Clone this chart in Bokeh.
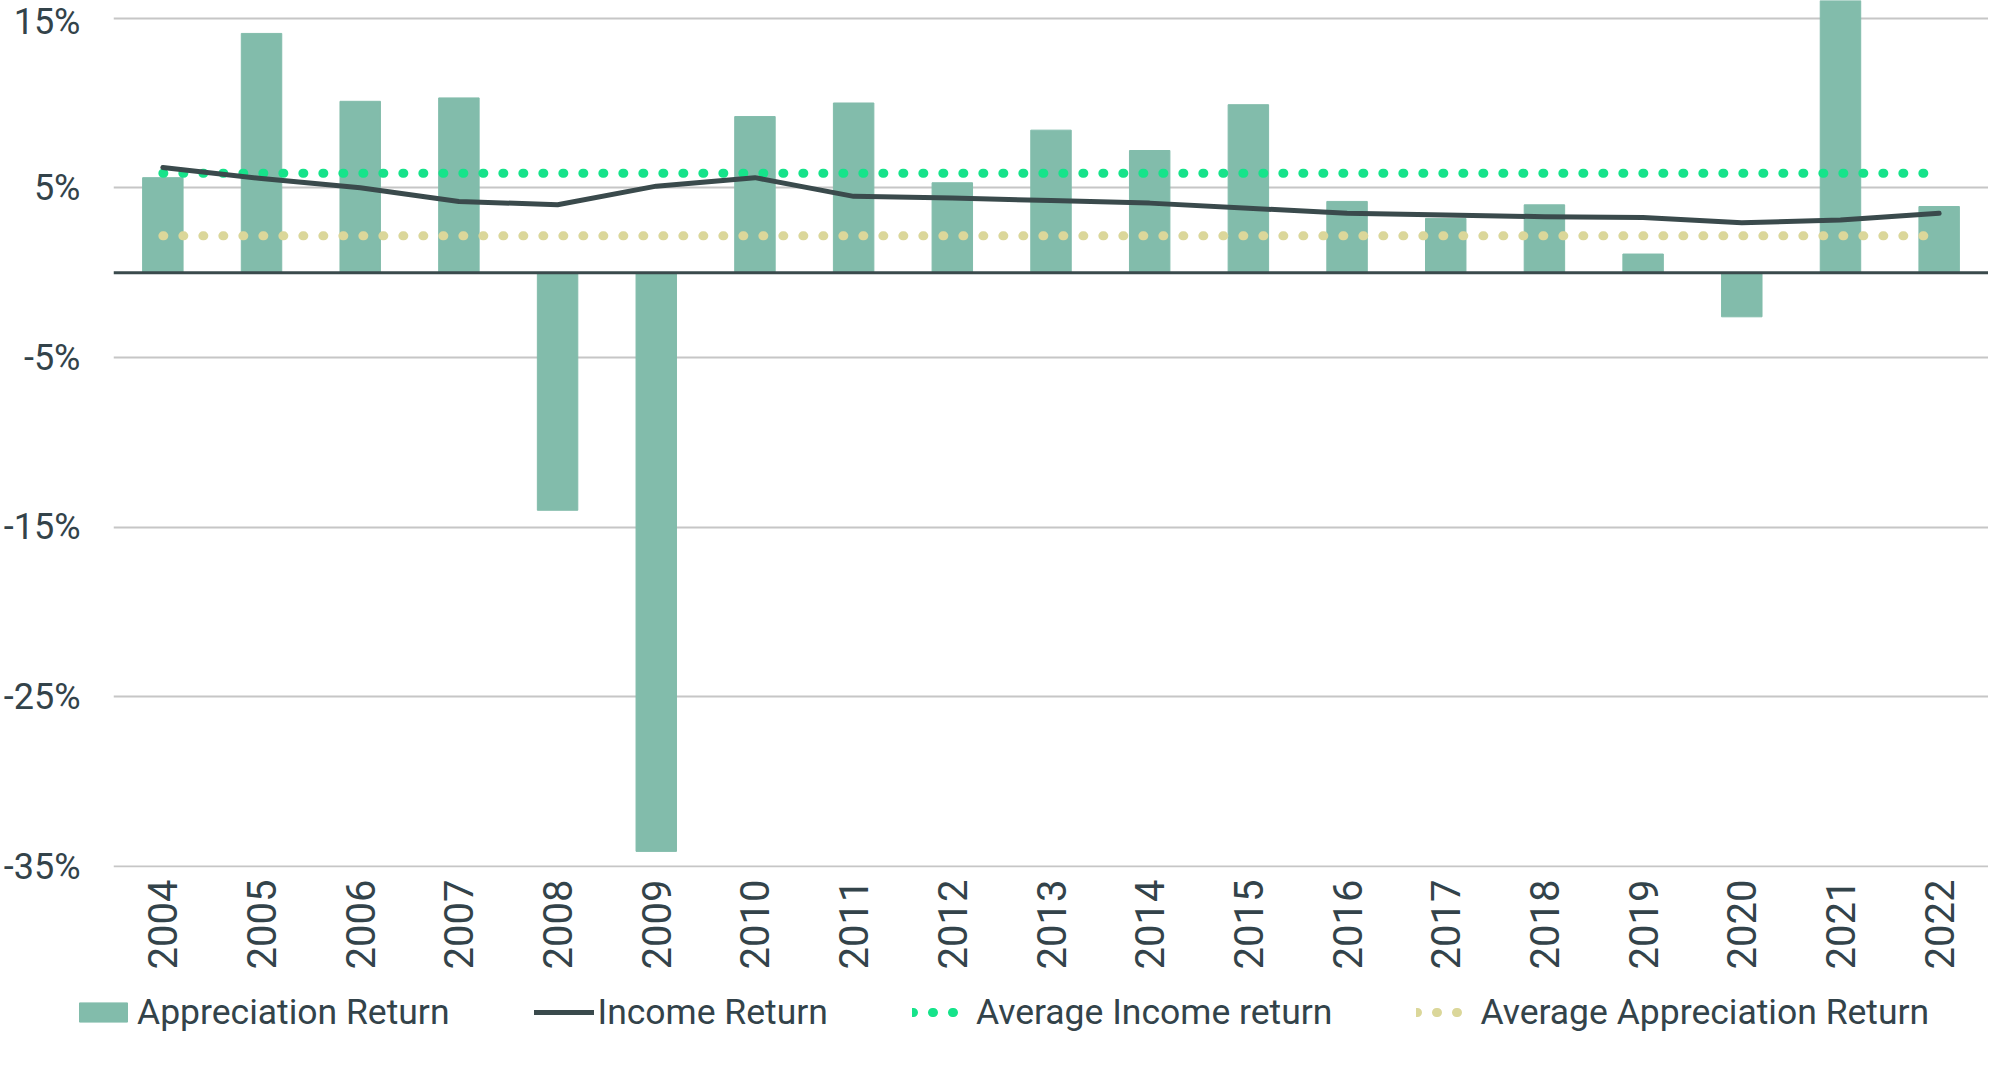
import math
from bokeh.plotting import figure
from bokeh.models import (FactorRange, Range1d, FixedTicker, Legend, LegendItem,
                          Span, PrintfTickFormatter)
from bokeh.embed import file_html
from bokeh.resources import INLINE

years = ["2004", "2005", "2006", "2007", "2008", "2009", "2010", "2011", "2012",
         "2013", "2014", "2015", "2016", "2017", "2018", "2019", "2020", "2021", "2022"]
appreciation_return = [5.6, 14.1, 10.1, 10.3, -14.0, -34.1, 9.2, 10.0, 5.3,
                       8.4, 7.2, 9.9, 4.2, 3.2, 4.0, 1.1, -2.6, 17.0, 3.9]
income_return = [6.2, 5.55, 5.0, 4.2, 4.0, 5.1, 5.6, 4.5, 4.4,
                 4.25, 4.1, 3.8, 3.5, 3.4, 3.3, 3.25, 2.95, 3.1, 3.5]
average_income_return = 5.86
average_appreciation_return = 2.17
y_ticks = [-35, -25, -15, -5, 5, 15]
series_names = ["Appreciation Return", "Income Return",
                "Average Income return", "Average Appreciation Return"]

TEXT = "#33434a"
FONT = "Roboto"
BAR_C = "#82bcab"
LINE_C = "#3a4a4c"
AVG_INC_C = "#16e38a"
AVG_APP_C = "#dbd79a"


def draw_series(fig):
    rb = fig.vbar(x=years, top=appreciation_return, width=0.41, bottom=0,
                  fill_color=BAR_C, line_color=BAR_C, line_width=1)
    rai = fig.line(x=[years[0], years[-1]], y=[average_income_return, average_income_return],
                   line_color=AVG_INC_C, line_width=9, line_dash="1 19", line_cap="round")
    raa = fig.line(x=[years[0], years[-1]], y=[average_appreciation_return, average_appreciation_return],
                   line_color=AVG_APP_C, line_width=9, line_dash="1 19", line_cap="round")
    ri = fig.line(x=years, y=income_return, line_color=LINE_C, line_width=5,
                  line_cap="round", line_join="round")
    return rb, ri, rai, raa


p = figure(width=1988, height=975, output_backend="svg", toolbar_location=None,
           x_range=FactorRange(factors=years), y_range=Range1d(-35.05, 16.04),
           min_border_left=104, min_border_right=0, min_border_top=0, min_border_bottom=108)
p.outline_line_color = None
p.background_fill_color = "white"
p.border_fill_color = "white"
p.add_layout(Span(location=0, dimension="width", line_color=LINE_C, line_width=3))
draw_series(p)

p.xgrid.grid_line_color = None
p.ygrid.grid_line_color = "#c6c6c6"
p.ygrid.grid_line_width = 2
p.yaxis.ticker = FixedTicker(ticks=y_ticks)
p.yaxis.formatter = PrintfTickFormatter(format="%d%%")

for ax in (p.xaxis, p.yaxis):
    ax.axis_line_color = None
    ax.major_tick_line_color = None
    ax.minor_tick_line_color = None
    ax.major_tick_out = 0
    ax.major_tick_in = 0
    ax.major_label_text_font = FONT
    ax.major_label_text_color = TEXT
p.yaxis.major_label_text_font_size = "36px"
p.xaxis.major_label_text_font_size = "40px"
p.yaxis.major_label_standoff = 33
p.xaxis.major_label_standoff = 12
p.xaxis.major_label_orientation = math.pi / 2

# legend strip: same series, viewed out of range so only the legend shows
lg = figure(width=1988, height=77, output_backend="svg", toolbar_location=None,
            x_range=FactorRange(factors=years), y_range=Range1d(100, 101),
            min_border=0, x_axis_type=None, y_axis_type=None)
lg.outline_line_color = None
lg.xgrid.visible = False
lg.ygrid.visible = False
rb, ri, rai, raa = draw_series(lg)

legend = Legend(items=[
    LegendItem(label=series_names[0], renderers=[rb]),
    LegendItem(label=series_names[1], renderers=[ri]),
    LegendItem(label=series_names[2], renderers=[rai]),
    LegendItem(label=series_names[3], renderers=[raa]),
], orientation="horizontal", location=(73, 19),
    glyph_width=60, glyph_height=24, label_standoff=4, spacing=84,
    padding=0, margin=0, border_line_color=None, background_fill_alpha=0,
    label_text_font=FONT, label_text_font_size="35.5px", label_text_color=TEXT)
lg.add_layout(legend, "center")

open("out.html", "w").write(file_html([p, lg], INLINE))
